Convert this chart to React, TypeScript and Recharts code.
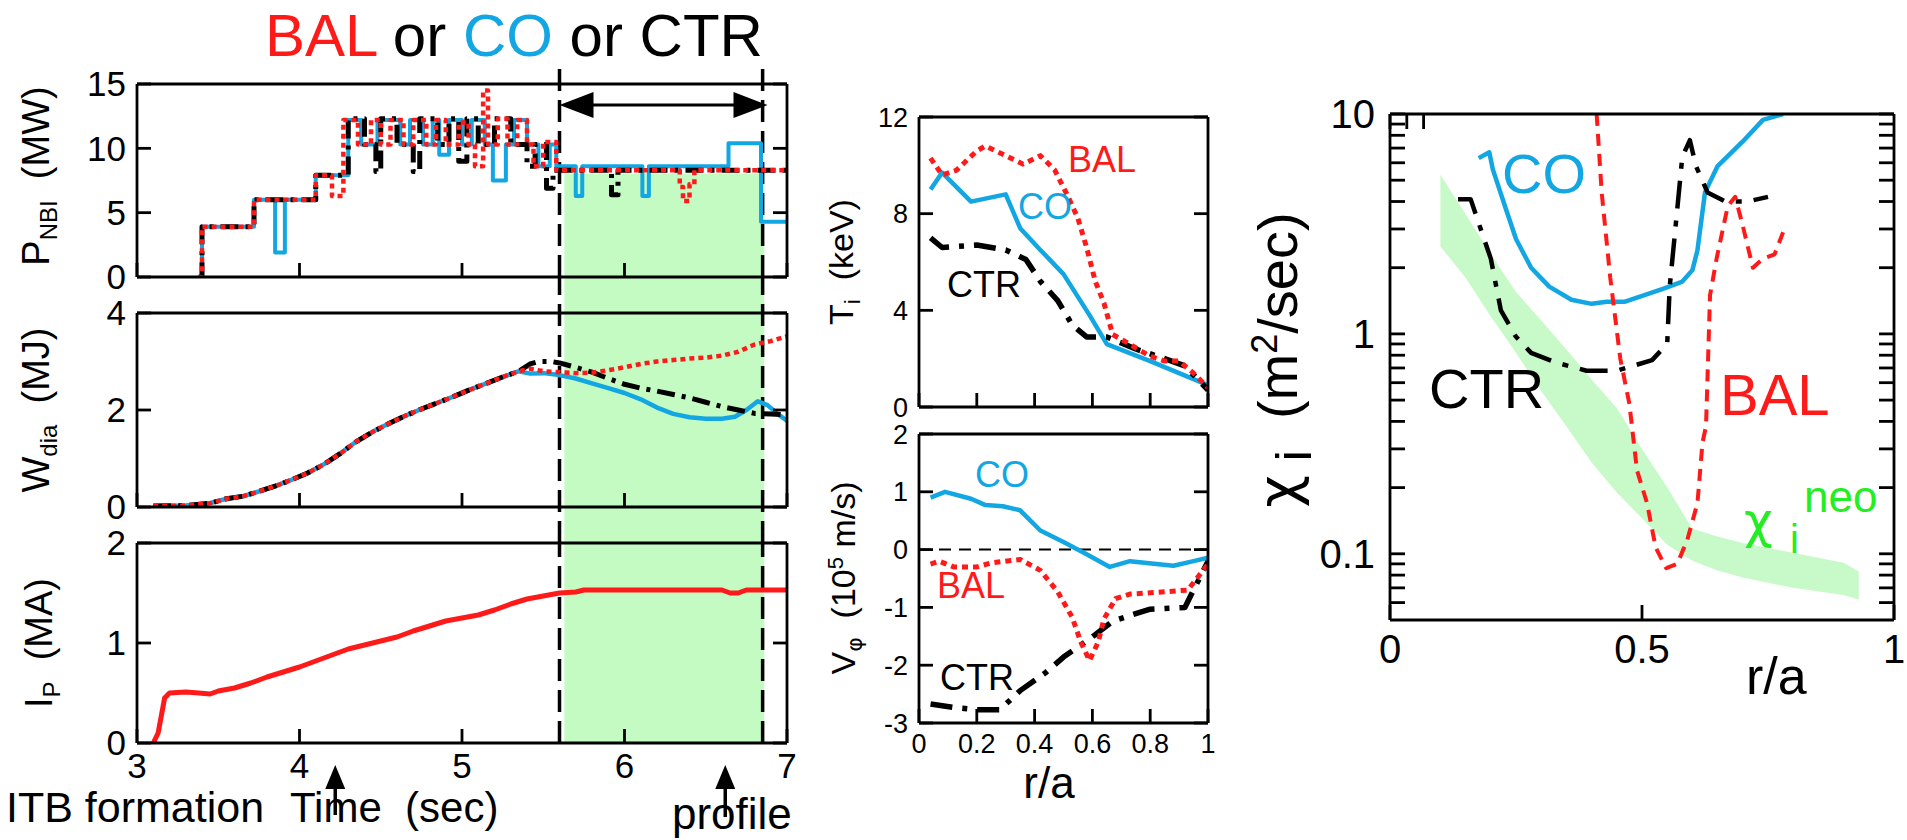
import React from "react";
import {
  Area,
  ComposedChart,
  Line,
  ReferenceArea,
  ReferenceLine,
  XAxis,
  YAxis,
} from "recharts";

type Pt = [number, number];

const FONT = '"Liberation Sans", Arial, Helvetica, sans-serif';
const GREEK = '"DejaVu Sans", "Liberation Sans", sans-serif';
const CYAN = "#12A6E3";
const RED = "#FF1A1A";
const BLACK = "#000000";
const SHADE = "#C3FBC3";
const NEO_FILL = "#C8F9C8";
const NEO_TEXT = "#22EE22";

// ---------- discharge waveforms, time in s ----------
const timeTicks = [3, 4, 5, 6, 7];
const pnbiTicks = [0, 5, 10, 15];
const wdiaTicks = [0, 2, 4];
const ipTicks = [0, 1, 2];

// analysis window and profile time
const windowStart = 5.6;
const windowEnd = 6.85;
const shadeStart = 5.63;
const shadeEnd = 6.86;
const shadeTopPnbi = 8.05;
const itbTime = 4.22;
const profileTime = 6.62;

// beam power is stepped: each point is the level from that time on
const pnbiCtr: Pt[] = [
  [3.38, 0], [3.4, 3.9], [3.72, 6.0], [4.1, 7.9], [4.3, 12.3], [4.4, 10.3],
  [4.47, 8.2], [4.5, 12.3], [4.6, 10.3], [4.7, 8.2], [4.74, 12.3], [4.85, 10.3],
  [4.92, 12.3], [4.98, 9.0], [5.03, 12.3], [5.1, 10.3], [5.2, 12.3], [5.3, 10.3],
  [5.4, 8.6], [5.45, 10.3], [5.52, 6.9], [5.56, 8.3], [5.92, 6.4], [5.96, 8.3],
  [7.0, 8.3],
];

const pnbiCo: Pt[] = [
  [3.38, 0], [3.4, 3.9], [3.72, 6.0], [3.85, 1.9], [3.91, 6.0], [4.1, 7.9],
  [4.3, 12.2], [4.38, 10.3], [4.48, 12.2], [4.62, 10.3], [4.68, 12.2], [4.76, 10.3],
  [4.82, 12.2], [4.86, 9.5], [4.92, 12.2], [5.0, 10.3], [5.06, 12.2], [5.14, 10.3],
  [5.19, 7.5], [5.27, 10.3], [5.32, 12.2], [5.4, 10.3], [5.47, 8.6], [5.54, 10.3],
  [5.58, 8.6], [5.7, 6.3], [5.74, 8.6], [6.11, 6.3], [6.15, 8.6], [6.64, 10.4],
  [6.84, 4.3], [7.0, 4.3],
];

const pnbiBal: Pt[] = [
  [3.38, 0], [3.4, 3.9], [3.72, 6.0], [4.1, 7.9], [4.2, 6.3], [4.27, 12.2],
  [4.36, 10.3], [4.44, 12.2], [4.5, 10.3], [4.56, 12.2], [4.64, 10.3], [4.7, 12.2],
  [4.78, 10.3], [4.84, 12.2], [4.9, 10.3], [4.98, 12.0], [5.04, 10.3], [5.08, 8.6],
  [5.13, 14.5], [5.16, 10.3], [5.22, 12.3], [5.28, 10.3], [5.34, 12.2], [5.4, 10.3],
  [5.44, 8.6], [5.5, 10.5], [5.58, 8.3], [6.34, 7.0], [6.36, 5.9], [6.4, 7.2],
  [6.43, 8.3], [7.0, 8.3],
];

// stored energy rise, common to all three discharges
const wdiaRamp: Pt[] = [
  [3.1, 0.02], [3.3, 0.03], [3.45, 0.08], [3.55, 0.17], [3.65, 0.22], [3.75, 0.32],
  [3.85, 0.43], [3.95, 0.56], [4.05, 0.7], [4.15, 0.88], [4.25, 1.1], [4.35, 1.35],
  [4.45, 1.55], [4.55, 1.72], [4.65, 1.88], [4.75, 2.02], [4.85, 2.15], [4.95, 2.28],
  [5.05, 2.42], [5.15, 2.55], [5.25, 2.68], [5.35, 2.8],
];
const wdiaCtrTail: Pt[] = [
  [5.42, 2.95], [5.47, 3.0], [5.55, 3.0], [5.6, 2.97], [5.7, 2.88], [5.8, 2.78],
  [5.9, 2.65], [6.0, 2.53], [6.1, 2.45], [6.2, 2.39], [6.3, 2.32], [6.4, 2.25],
  [6.5, 2.16], [6.6, 2.07], [6.7, 2.0], [6.8, 1.93], [6.9, 1.92], [7.0, 1.9],
];
const wdiaCoTail: Pt[] = [
  [5.42, 2.75], [5.5, 2.76], [5.6, 2.72], [5.7, 2.65], [5.8, 2.55], [5.9, 2.45],
  [6.0, 2.35], [6.1, 2.22], [6.2, 2.05], [6.3, 1.92], [6.4, 1.85], [6.5, 1.82],
  [6.6, 1.82], [6.68, 1.86], [6.75, 2.0], [6.82, 2.18], [6.88, 2.1], [6.95, 1.9], [7.0, 1.78],
];
const wdiaBalTail: Pt[] = [
  [5.42, 2.85], [5.5, 2.8], [5.6, 2.78], [5.7, 2.76], [5.8, 2.77], [5.9, 2.82],
  [6.0, 2.88], [6.1, 2.95], [6.2, 3.0], [6.3, 3.03], [6.4, 3.06], [6.5, 3.08],
  [6.6, 3.12], [6.7, 3.2], [6.8, 3.35], [6.9, 3.42], [7.0, 3.52],
];

const ipBal: Pt[] = [
  [3.1, 0], [3.13, 0.1], [3.17, 0.45], [3.2, 0.5], [3.3, 0.51], [3.38, 0.5],
  [3.45, 0.49], [3.5, 0.52], [3.6, 0.55], [3.7, 0.6], [3.8, 0.66], [3.9, 0.71],
  [4.0, 0.76], [4.1, 0.82], [4.2, 0.88], [4.3, 0.94], [4.4, 0.98], [4.5, 1.02],
  [4.6, 1.06], [4.7, 1.12], [4.8, 1.17], [4.9, 1.22], [5.0, 1.25], [5.1, 1.28],
  [5.2, 1.33], [5.3, 1.39], [5.4, 1.44], [5.5, 1.47], [5.6, 1.5], [5.7, 1.51],
  [5.75, 1.53], [6.0, 1.53], [6.6, 1.53], [6.65, 1.5], [6.7, 1.5], [6.75, 1.53], [7.0, 1.53],
];

// ---------- profiles vs r/a ----------
const raTicks = [0, 0.2, 0.4, 0.6, 0.8, 1];
const tiTicks = [0, 4, 8, 12];
const vTicks = [-3, -2, -1, 0, 1, 2];

const tiBal: Pt[] = [
  [0.04, 10.3], [0.08, 9.6], [0.13, 9.8], [0.2, 10.6], [0.23, 10.8], [0.3, 10.4],
  [0.36, 10.05], [0.42, 10.4], [0.47, 9.8], [0.52, 8.6], [0.55, 7.8], [0.58, 6.6],
  [0.61, 5.2], [0.64, 4.3], [0.67, 3.0], [0.7, 2.8], [0.8, 2.1], [0.85, 1.9],
  [0.9, 1.9], [0.95, 1.4], [1.0, 0.8],
];
const tiCo: Pt[] = [
  [0.04, 9.0], [0.08, 9.7], [0.18, 8.5], [0.3, 8.8], [0.35, 7.4], [0.42, 6.5],
  [0.5, 5.5], [0.59, 3.8], [0.65, 2.6], [0.8, 1.9], [0.9, 1.4], [1.0, 0.9],
];
const tiCtr: Pt[] = [
  [0.04, 7.0], [0.08, 6.6], [0.2, 6.7], [0.3, 6.5], [0.37, 6.1], [0.42, 5.2],
  [0.48, 4.4], [0.53, 3.4], [0.58, 2.9], [0.65, 2.9], [0.75, 2.4], [0.85, 2.0],
  [0.92, 1.7], [1.0, 0.7],
];

const vCo: Pt[] = [
  [0.04, 0.9], [0.09, 1.0], [0.18, 0.88], [0.23, 0.77], [0.29, 0.75], [0.35, 0.68],
  [0.42, 0.33], [0.5, 0.13], [0.58, -0.08], [0.66, -0.3], [0.73, -0.2], [0.88, -0.28],
  [0.95, -0.2], [1.0, -0.14],
];
const vBal: Pt[] = [
  [0.04, -0.25], [0.07, -0.2], [0.12, -0.3], [0.2, -0.3], [0.25, -0.23], [0.35, -0.17],
  [0.42, -0.36], [0.48, -0.73], [0.53, -1.17], [0.56, -1.6], [0.59, -1.92], [0.62, -1.6],
  [0.64, -1.2], [0.68, -0.85], [0.73, -0.77], [0.85, -0.73], [0.93, -0.7], [1.0, -0.25],
];
const vCtr: Pt[] = [
  [0.04, -2.67], [0.12, -2.73], [0.2, -2.77], [0.28, -2.77], [0.35, -2.44], [0.44, -2.12],
  [0.5, -1.86], [0.6, -1.51], [0.67, -1.24], [0.73, -1.14], [0.8, -1.03], [0.92, -1.0],
  [1.0, -0.2],
];

// ---------- ion thermal diffusivity ----------
const chiXTicks = [0, 0.5, 1];
const chiMajor = [0.1, 1, 10];
const chiTicks = [
  0.06, 0.07, 0.08, 0.09, 0.1, 0.2, 0.3, 0.4, 0.5, 0.6, 0.7, 0.8, 0.9, 1,
  2, 3, 4, 5, 6, 7, 8, 9, 10,
];

const chiCo: Pt[] = [
  [0.176, 6.3], [0.197, 6.7], [0.204, 5.6], [0.23, 3.7], [0.25, 2.7], [0.28, 2.0],
  [0.316, 1.64], [0.36, 1.43], [0.4, 1.37], [0.43, 1.4], [0.465, 1.4], [0.54, 1.6],
  [0.58, 1.73], [0.6, 1.95], [0.61, 2.4], [0.625, 4.4], [0.65, 5.8], [0.7, 7.5],
  [0.74, 9.4], [0.78, 10],
];
const chiCtr: Pt[] = [
  [0.135, 4.1], [0.16, 4.1], [0.18, 3.0], [0.2, 2.2], [0.22, 1.28], [0.25, 0.97],
  [0.28, 0.82], [0.33, 0.74], [0.39, 0.68], [0.45, 0.68], [0.52, 0.76], [0.55, 0.9],
  [0.555, 1.64], [0.57, 3.7], [0.58, 6.4], [0.595, 7.6], [0.607, 5.8], [0.63, 4.4],
  [0.665, 4.0], [0.71, 4.0], [0.75, 4.2],
];
const chiBal: Pt[] = [
  [0.41, 10], [0.42, 4.4], [0.437, 1.8], [0.457, 0.77], [0.475, 0.48], [0.49, 0.24],
  [0.51, 0.17], [0.527, 0.107], [0.548, 0.086], [0.57, 0.09], [0.59, 0.116], [0.61, 0.17],
  [0.62, 0.32], [0.627, 0.38], [0.635, 1.5], [0.648, 2.2], [0.67, 3.8], [0.685, 4.2],
  [0.7, 3.1], [0.72, 2.0], [0.74, 2.2], [0.763, 2.3], [0.78, 2.9],
];

// neoclassical band
const neoR = [0.1, 0.15, 0.2, 0.25, 0.3, 0.35, 0.4, 0.45, 0.5, 0.55, 0.6, 0.65, 0.7, 0.8, 0.9, 0.93];
const neoLo = [2.5, 1.8, 1.2, 0.82, 0.55, 0.38, 0.26, 0.19, 0.145, 0.11, 0.093, 0.084, 0.078, 0.07, 0.065, 0.062];
const neoHi = [5.3, 3.5, 2.3, 1.55, 1.15, 0.85, 0.62, 0.46, 0.3, 0.2, 0.13, 0.12, 0.112, 0.101, 0.091, 0.083];

// ---------- layout ----------
type Frame = { x: number; y: number; w: number; h: number };
type Margin = { top: number; right: number; bottom: number; left: number };

const frameL1: Frame = { x: 137, y: 84, w: 650, h: 193 };
const frameL2: Frame = { x: 137, y: 313, w: 650, h: 194 };
const frameL3: Frame = { x: 137, y: 543, w: 650, h: 200 };
const frameM1: Frame = { x: 919, y: 117, w: 289, h: 290 };
const frameM2: Frame = { x: 919, y: 434, w: 289, h: 289 };
const frameR: Frame = { x: 1390, y: 114, w: 504, h: 506 };

const rows = (pts: Pt[]) => pts.map(([x, y]) => ({ x, y }));
const neoRows = neoR.map((x, i) => ({ x, band: [neoLo[i], neoHi[i]] }));

const frameStroke = { stroke: BLACK, strokeWidth: 2.8 };

type AxisOpts = {
  xDomain: [number, number];
  yDomain: [number, number];
  xTicks: number[];
  yTicks: number[];
  xLabels?: boolean;
  yLabels?: boolean;
  fontSize: number;
  tickLen: number;
  xGap: number;
  yGap: number;
  xFmt?: (v: number) => string;
  yFmt?: (v: number) => string;
  logY?: boolean;
};

const blank = () => "";

// four axes drawn as a closed box with inward ticks
function frameAxes(o: AxisOpts) {
  const font = { fontSize: o.fontSize, fill: BLACK, fontFamily: FONT };
  const yScale = o.logY ? "log" : "auto";
  return [
    <XAxis
      key="xb"
      xAxisId="b"
      dataKey="x"
      type="number"
      orientation="bottom"
      height={1}
      domain={o.xDomain}
      ticks={o.xTicks}
      interval={0}
      allowDataOverflow
      axisLine={frameStroke}
      tickLine={frameStroke}
      tickSize={-o.tickLen}
      tickMargin={o.tickLen + o.xGap}
      tick={font}
      tickFormatter={o.xLabels ? o.xFmt ?? String : blank}
    />,
    <XAxis
      key="xt"
      xAxisId="t"
      type="number"
      orientation="top"
      height={1}
      domain={o.xDomain}
      ticks={o.xTicks}
      interval={0}
      allowDataOverflow
      axisLine={frameStroke}
      tickLine={frameStroke}
      tickSize={-o.tickLen}
      tickMargin={0}
      tick={font}
      tickFormatter={blank}
    />,
    <YAxis
      key="yl"
      yAxisId="l"
      type="number"
      orientation="left"
      width={1}
      scale={yScale}
      domain={o.yDomain}
      ticks={o.yTicks}
      interval={0}
      allowDataOverflow
      axisLine={frameStroke}
      tickLine={frameStroke}
      tickSize={-o.tickLen}
      tickMargin={o.tickLen + o.yGap}
      tick={font}
      tickFormatter={o.yLabels ? o.yFmt ?? String : blank}
    />,
    <YAxis
      key="yr"
      yAxisId="r"
      type="number"
      orientation="right"
      width={1}
      scale={yScale}
      domain={o.yDomain}
      ticks={o.yTicks}
      interval={0}
      allowDataOverflow
      axisLine={frameStroke}
      tickLine={frameStroke}
      tickSize={-o.tickLen}
      tickMargin={0}
      tick={font}
      tickFormatter={blank}
    />,
  ];
}

function series(
  key: string,
  pts: Pt[],
  stroke: string,
  width: number,
  dash?: string,
  curve: "linear" | "stepAfter" = "linear"
) {
  return (
    <Line
      key={key}
      data={rows(pts)}
      dataKey="y"
      xAxisId="b"
      yAxisId="l"
      type={curve}
      stroke={stroke}
      strokeWidth={width}
      strokeDasharray={dash}
      strokeLinejoin="round"
      dot={false}
      activeDot={false}
      isAnimationActive={false}
    />
  );
}

function Panel({
  frame,
  margin,
  data,
  children,
}: {
  frame: Frame;
  margin: Margin;
  data?: any[];
  children: React.ReactNode;
}) {
  return (
    <div style={{ position: "absolute", left: frame.x - margin.left - 1, top: frame.y - margin.top - 1 }}>
      <ComposedChart
        width={frame.w + margin.left + margin.right + 2}
        height={frame.h + margin.top + margin.bottom + 2}
        margin={margin}
        data={data}
      >
        {children}
      </ComposedChart>
    </div>
  );
}

function DoubleArrow(p: any) {
  const { x1, y1, x2 } = p;
  const hl = 34;
  const hw = 13;
  return (
    <g>
      <line x1={x1 + hl - 2} y1={y1} x2={x2 - hl + 2} y2={y1} stroke={BLACK} strokeWidth={3} />
      <polygon points={`${x1},${y1} ${x1 + hl},${y1 - hw} ${x1 + hl},${y1 + hw}`} fill={BLACK} />
      <polygon points={`${x2},${y1} ${x2 - hl},${y1 - hw} ${x2 - hl},${y1 + hw}`} fill={BLACK} />
    </g>
  );
}

// segment[0] is the tail, segment[1] the tip
function UpArrow(p: any) {
  const { x1, y1, y2 } = p;
  return (
    <g>
      <line x1={x1} y1={y1} x2={x1} y2={y2 + 18} stroke={BLACK} strokeWidth={3.5} />
      <polygon points={`${x1},${y2} ${x1 - 10},${y2 + 24} ${x1 + 10},${y2 + 24}`} fill={BLACK} />
    </g>
  );
}

const dashLine = { stroke: BLACK, strokeWidth: 3.5, strokeDasharray: "22 9" };
const leftCtrDash = "18 7 4 7";
const leftBalDash = "5 4";

function windowMarks(yLo: number, yHi: number) {
  return [
    <ReferenceLine
      key="w0"
      xAxisId="b"
      yAxisId="l"
      segment={[{ x: windowStart, y: yLo }, { x: windowStart, y: yHi }]}
      ifOverflow="visible"
      {...dashLine}
    />,
    <ReferenceLine
      key="w1"
      xAxisId="b"
      yAxisId="l"
      segment={[{ x: windowEnd, y: yLo }, { x: windowEnd, y: yHi }]}
      ifOverflow="visible"
      {...dashLine}
    />,
  ];
}

const leftAxis = {
  xDomain: [3, 7] as [number, number],
  xTicks: timeTicks,
  fontSize: 35,
  tickLen: 14,
  xGap: 10,
  yGap: 11,
};

const profileAxis = {
  xDomain: [0, 1] as [number, number],
  xTicks: raTicks,
  fontSize: 27,
  tickLen: 14,
  xGap: 11,
  yGap: 11,
  xFmt: (v: number) => (v === 0 || v === 1 ? String(v) : v.toFixed(1)),
};

function VText({ x, y, size, children }: { x: number; y: number; size: number; children: React.ReactNode }) {
  return (
    <text transform={`rotate(-90 ${x} ${y})`} x={x} y={y} fontSize={size} textAnchor="middle" fill={BLACK}>
      {children}
    </text>
  );
}

export default function App() {
  return (
    <div style={{ position: "absolute", left: 0, top: 0, width: 1907, height: 840, background: "#fff" }}>
      {/* stored energy first so the shaded window can run through the gaps */}
      <Panel frame={frameL2} margin={{ top: 40, right: 20, bottom: 40, left: 80 }}>
        <ReferenceArea
          xAxisId="b"
          yAxisId="l"
          x1={shadeStart}
          x2={shadeEnd}
          y1={-0.742}
          y2={4.742}
          fill={SHADE}
          fillOpacity={1}
          stroke="none"
          ifOverflow="visible"
        />
        {frameAxes({ ...leftAxis, yDomain: [0, 4], yTicks: wdiaTicks, yLabels: true })}
        {windowMarks(-0.742, 4.742)}
        {series("wCo", [...wdiaRamp, ...wdiaCoTail], CYAN, 4.5)}
        {series("wCtr", [...wdiaRamp, ...wdiaCtrTail], BLACK, 5, leftCtrDash)}
        {series("wBal", [...wdiaRamp, ...wdiaBalTail], RED, 4.5, leftBalDash)}
      </Panel>

      <Panel frame={frameL1} margin={{ top: 30, right: 20, bottom: 40, left: 80 }}>
        <ReferenceArea
          xAxisId="b"
          yAxisId="l"
          x1={shadeStart}
          x2={shadeEnd}
          y1={0}
          y2={shadeTopPnbi}
          fill={SHADE}
          fillOpacity={1}
          stroke="none"
          ifOverflow="visible"
        />
        {frameAxes({ ...leftAxis, yDomain: [0, 15], yTicks: pnbiTicks, yLabels: true })}
        {windowMarks(0, 16.24)}
        {series("pCo", pnbiCo, CYAN, 4, undefined, "stepAfter")}
        {series("pCtr", pnbiCtr, BLACK, 5, leftCtrDash, "stepAfter")}
        {series("pBal", pnbiBal, RED, 4.5, leftBalDash, "stepAfter")}
        <ReferenceLine
          xAxisId="b"
          yAxisId="l"
          segment={[{ x: windowStart, y: 13.36 }, { x: 6.88, y: 13.36 }]}
          ifOverflow="visible"
          shape={DoubleArrow}
        />
      </Panel>

      <Panel frame={frameL3} margin={{ top: 30, right: 20, bottom: 97, left: 80 }}>
        <ReferenceArea
          xAxisId="b"
          yAxisId="l"
          x1={shadeStart}
          x2={shadeEnd}
          y1={0}
          y2={2}
          fill={SHADE}
          fillOpacity={1}
          stroke="none"
          ifOverflow="visible"
        />
        {frameAxes({ ...leftAxis, yDomain: [0, 2], yTicks: ipTicks, xLabels: true, yLabels: true })}
        {windowMarks(0, 2)}
        {series("ip", ipBal, RED, 5)}
        <ReferenceLine
          xAxisId="b"
          yAxisId="l"
          segment={[{ x: itbTime, y: -0.72 }, { x: itbTime, y: -0.22 }]}
          ifOverflow="visible"
          shape={UpArrow}
        />
        <ReferenceLine
          xAxisId="b"
          yAxisId="l"
          segment={[{ x: profileTime, y: -0.74 }, { x: profileTime, y: -0.22 }]}
          ifOverflow="visible"
          shape={UpArrow}
        />
      </Panel>

      <Panel frame={frameM1} margin={{ top: 20, right: 20, bottom: 20, left: 60 }}>
        {frameAxes({ ...profileAxis, yDomain: [0, 12], yTicks: tiTicks, yLabels: true })}
        {series("tCo", tiCo, CYAN, 4.5)}
        {series("tCtr", tiCtr, BLACK, 5.5, "22 10 5 10")}
        {series("tBal", tiBal, RED, 5, "6 5")}
      </Panel>

      <Panel frame={frameM2} margin={{ top: 20, right: 20, bottom: 60, left: 60 }}>
        {frameAxes({ ...profileAxis, yDomain: [-3, 2], yTicks: vTicks, xLabels: true, yLabels: true })}
        <ReferenceLine xAxisId="b" yAxisId="l" y={0} stroke={BLACK} strokeWidth={2} strokeDasharray="12 8" />
        {series("vCo", vCo, CYAN, 4.5)}
        {series("vCtr", vCtr, BLACK, 5.5, "22 10 5 10")}
        {series("vBal", vBal, RED, 5, "6 5")}
      </Panel>

      <Panel frame={frameR} margin={{ top: 20, right: 10, bottom: 60, left: 70 }} data={neoRows}>
        <Area
          dataKey="band"
          xAxisId="b"
          yAxisId="l"
          type="linear"
          fill={NEO_FILL}
          fillOpacity={1}
          stroke="none"
          isAnimationActive={false}
          activeDot={false}
        />
        {frameAxes({
          xDomain: [0, 1],
          xTicks: chiXTicks,
          yDomain: [0.05, 10],
          yTicks: chiTicks,
          logY: true,
          xLabels: true,
          yLabels: true,
          fontSize: 40,
          tickLen: 15,
          xGap: 15,
          yGap: 15,
          yFmt: (v: number) => (chiMajor.includes(v) ? String(v) : ""),
        })}
        {series("cCo", chiCo, CYAN, 4.5)}
        {series("cCtr", chiCtr, BLACK, 4.5, "28 12 6 12")}
        {series("cBal", chiBal, RED, 4, "12 8")}
      </Panel>

      <svg
        width={1907}
        height={840}
        style={{ position: "absolute", left: 0, top: 0, pointerEvents: "none" }}
        fontFamily={FONT}
      >
        <text x={265} y={56} fontSize={60}>
          <tspan fill={RED}>BAL</tspan>
          <tspan fill={BLACK}>{" or "}</tspan>
          <tspan fill={CYAN}>CO</tspan>
          <tspan fill={BLACK}>{" or CTR"}</tspan>
        </text>

        <VText x={49} y={176} size={38}>
          P<tspan fontSize={24} dy={8}>NBI</tspan>
          <tspan dy={-8}>{"\u00a0\u00a0(MW)"}</tspan>
        </VText>
        <VText x={49} y={410} size={38}>
          W<tspan fontSize={24} dy={8}>dia</tspan>
          <tspan dy={-8}>{"\u00a0\u00a0(MJ)"}</tspan>
        </VText>
        <VText x={52} y={643} size={38}>
          I<tspan fontSize={24} dy={8}>P</tspan>
          <tspan dy={-8}>{"\u00a0\u00a0(MA)"}</tspan>
        </VText>

        <text x={6} y={822} fontSize={43} fill={BLACK}>ITB formation</text>
        <text x={290} y={822} fontSize={42} fill={BLACK}>{"Time\u00a0\u00a0(sec)"}</text>
        <text x={672} y={829} fontSize={44} fill={BLACK}>profile</text>

        <VText x={853} y={262} size={34}>
          T<tspan fontSize={22} dy={7}>i</tspan>
          <tspan dy={-7}>{"\u00a0\u00a0(keV)"}</tspan>
        </VText>
        <VText x={855} y={578} size={34}>
          V<tspan fontSize={22} dy={7} fontFamily={GREEK}>{"\u03c6"}</tspan>
          <tspan dy={-7}>{"\u00a0\u00a0(10"}</tspan>
          <tspan fontSize={22} dy={-12}>5</tspan>
          <tspan dy={12}>{"\u00a0m/s)"}</tspan>
        </VText>
        <text x={1049} y={798} fontSize={44} textAnchor="middle" fill={BLACK}>r/a</text>

        <text x={1068} y={172} fontSize={36} fill={RED}>BAL</text>
        <text x={1018} y={219} fontSize={36} fill={CYAN}>CO</text>
        <text x={947} y={297} fontSize={36} fill={BLACK}>CTR</text>
        <text x={975} y={487} fontSize={36} fill={CYAN}>CO</text>
        <text x={937} y={598} fontSize={36} fill={RED}>BAL</text>
        <text x={940} y={690} fontSize={36} fill={BLACK}>CTR</text>

        <VText x={1297} y={360} size={56}>
          <tspan fontFamily={GREEK}>{"\u03c7"}</tspan>
          <tspan fontSize={50} dy={14}>{"\u00a0i"}</tspan>
          <tspan dy={-14}>{"\u00a0\u00a0(m"}</tspan>
          <tspan fontSize={36} dy={-20}>2</tspan>
          <tspan dy={20}>/sec)</tspan>
        </VText>
        <text x={1746} y={694} fontSize={52} fill={BLACK}>r/a</text>

        <text x={1502} y={193} fontSize={56} fill={CYAN}>CO</text>
        <text x={1429} y={408} fontSize={56} fill={BLACK}>CTR</text>
        <text x={1720} y={415} fontSize={58} fill={RED}>BAL</text>
        <text x={1744} y={538} fontSize={50} fill={NEO_TEXT} fontFamily={GREEK}>{"\u03c7"}</text>
        <text x={1790} y={553} fontSize={40} fill={NEO_TEXT}>i</text>
        <text x={1804} y={512} fontSize={44} fill={NEO_TEXT}>neo</text>
      </svg>
    </div>
  );
}
